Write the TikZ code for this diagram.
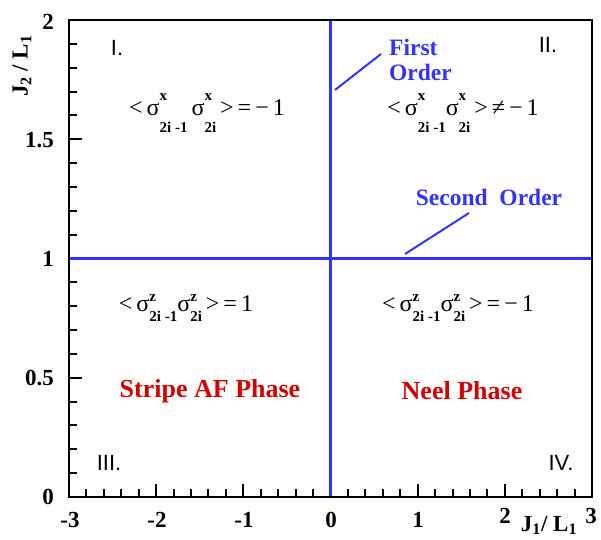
\documentclass[tikz,border=0pt]{standalone}
\usepackage{fontspec}
\setmainfont{Liberation Serif}
\setsansfont{Liberation Sans}
\definecolor{lineblue}{RGB}{51,51,255}
\definecolor{phasered}{RGB}{210,0,0}
\newcommand\scr[1]{{\fontsize{15}{15}\selectfont\bfseries #1}}
% sigma with high/low scripts (regions I, II)
\newcommand\sgA[2]{σ\rlap{\raisebox{0.62em}{\scr{#1}}}\raisebox{-0.72em}{\scr{#2}}}
% sigma with closer scripts (regions III, IV)
\newcommand\sgB[2]{σ\rlap{\raisebox{0.42em}{\scr{#1}}}\raisebox{-0.42em}{\scr{#2}}}
\begin{document}
\begin{tikzpicture}[x=1pt,y=-1pt,
  frame/.style={line width=2.4pt,black},
  tickline/.style={line width=2pt,black},
  phaseline/.style={line width=3pt,lineblue},
  leader/.style={line width=2pt,lineblue},
  ticklab/.style={font=\fontsize{23}{23}\selectfont\bfseries,inner sep=0pt},
  quad/.style={font=\sffamily\fontsize{22}{22}\selectfont,inner sep=0pt},
  formula/.style={font=\fontsize{24}{24}\selectfont,inner sep=0pt},
  phase/.style={font=\fontsize{26}{26}\selectfont\bfseries,text=phasered,inner sep=0pt},
  bluelab/.style={font=\fontsize{23.5}{23.5}\selectfont\bfseries,text=lineblue,inner sep=0pt},
  axlab/.style={font=\fontsize{23}{23}\selectfont\bfseries,inner sep=0pt}]
\useasboundingbox (0,0) rectangle (601,539);
% ticks on the bottom axis
\foreach \i in {0,...,30}{
  \pgfmathsetmacro\xx{69+\i*523/30}
  \pgfmathtruncatemacro\mj{mod(\i,5)==0 ? 1 : 0}
  \ifnum\mj=1
    \draw[tickline] (\xx,497) -- (\xx,484);
  \else
    \draw[tickline] (\xx,497) -- (\xx,489);
  \fi}
% ticks on the left axis
\foreach \i in {0,...,20}{
  \pgfmathsetmacro\yy{497-\i*477/20}
  \pgfmathtruncatemacro\mj{mod(\i,5)==0 ? 1 : 0}
  \ifnum\mj=1
    \draw[tickline] (69,\yy) -- (82,\yy);
  \else
    \draw[tickline] (69,\yy) -- (77,\yy);
  \fi}
% phase boundaries
\draw[phaseline] (330.5,20) -- (330.5,497);
\draw[phaseline] (69,258.5) -- (592,258.5);
% frame
\draw[frame] (69,20) rectangle (592,497);
% y tick labels
\node[ticklab,anchor=east] (y2) at (54,22) {2};
\node[ticklab,anchor=east] (y15) at (54,140) {1.5};
\node[ticklab,anchor=east] (y1) at (54,259) {1};
\node[ticklab,anchor=east] (y05) at (54,378) {0.5};
\node[ticklab,anchor=east] (y0) at (54,497) {0};
% x tick labels
\node[ticklab] (xm3) at (70,520) {-3};
\node[ticklab] (xm2) at (157,520) {-2};
\node[ticklab] (xm1) at (244,520) {-1};
\node[ticklab] (x0) at (331,520) {0};
\node[ticklab] (x1) at (418,520) {1};
\node[ticklab] (x2) at (505,516) {2};
\node[ticklab] (x3) at (591,516) {3};
% axis labels
\node[axlab,anchor=base] (xlab) at (549,531) {J\textsubscript{1}/ L\textsubscript{1}};
\node[axlab,rotate=90] (ylab) at (22,66) {J\textsubscript{2} / L\textsubscript{1}};
% quadrant numbers
\node[quad] (qI) at (117,48) {I.};
\node[quad] (qII) at (548,45) {II.};
\node[quad] (qIII) at (109,463) {III.};
\node[quad] (qIV) at (561,463) {IV.};
% correlators
\node[formula] (fI) at (207,113) {<\,\sgA{x}{2i -1}\,\sgA{x}{2i}\,>\,=\,−\,1};
\node[formula] (fII) at (463,113) {<\,\sgA{x}{2i -1}\sgA{x}{2i}\,>\,≠\,−\,1};
\node[formula] (fIII) at (186,308) {<\,\sgB{z}{2i -1}\sgB{z}{2i}\,>\,=\,1};
\node[formula] (fIV) at (458,308) {<\,\sgB{z}{2i -1}\sgB{z}{2i}\,>\,=\,−\,1};
% phase names
\node[phase] (stripe) at (210,391) {Stripe AF Phase};
\node[phase] (neel) at (462,391) {Neel Phase};
% transition labels
\node[bluelab,anchor=west] (first) at (389,47) {First};
\node[bluelab,anchor=west] (order) at (389,72) {Order};
\node[bluelab] (second) at (489,197) {Second\ \ Order};
\coordinate (fa) at (335,90);
\coordinate (fb) at (381,54);
\coordinate (sa) at (405,254);
\coordinate (sb) at (469,213);
\draw[leader] (fa) -- (fb);
\draw[leader] (sa) -- (sb);
\end{tikzpicture}
\end{document}
